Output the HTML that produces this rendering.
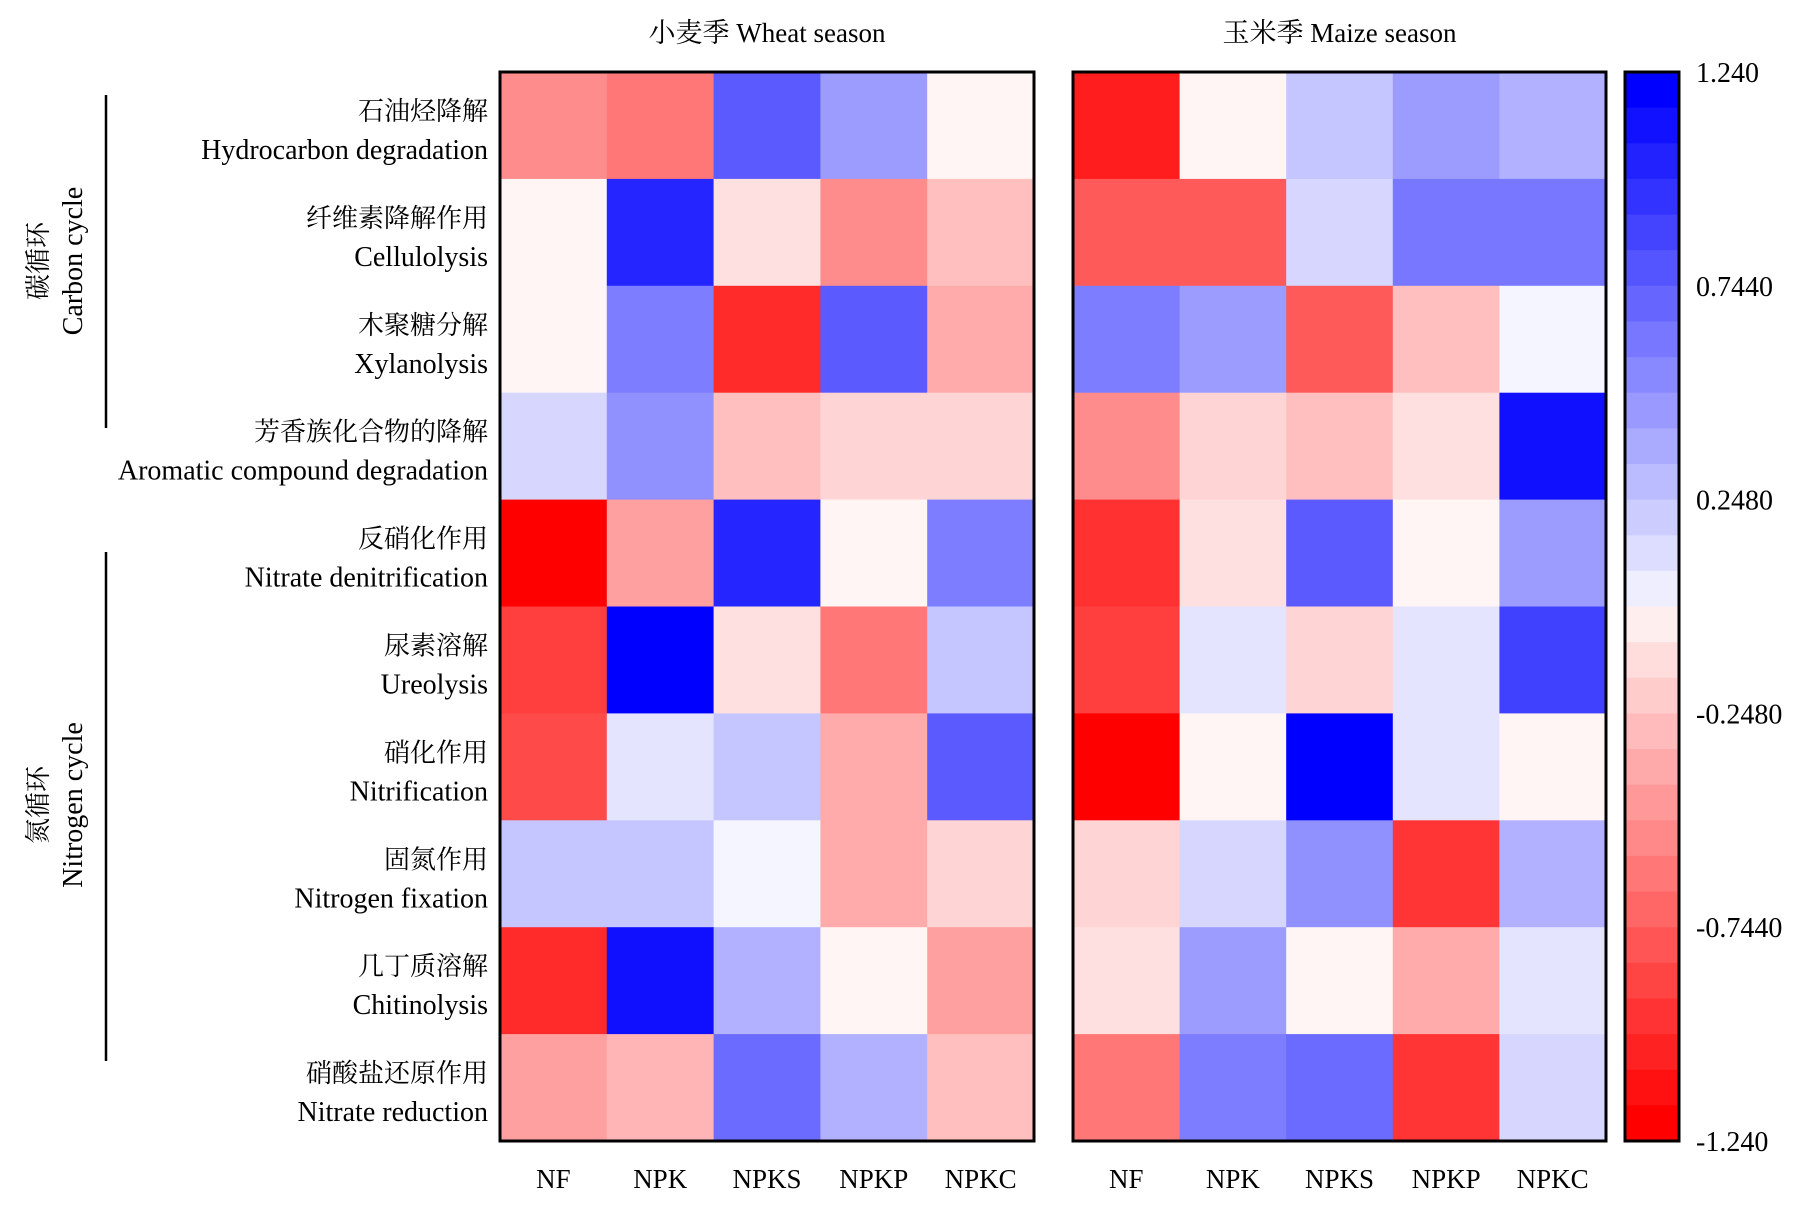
<!DOCTYPE html>
<html><head><meta charset="utf-8"><style>
html,body{margin:0;padding:0;background:#fff;}
svg{display:block;font-family:"Liberation Serif","Noto Serif CJK SC","Noto Sans CJK SC",serif;}
</style></head><body>
<svg id="chart" width="1820" height="1213" viewBox="0 0 1820 1213">
<g id="g"></g>
</svg>
<script>
const rowsZh = ["石油烃降解","纤维素降解作用","木聚糖分解","芳香族化合物的降解","反硝化作用","尿素溶解","硝化作用","固氮作用","几丁质溶解","硝酸盐还原作用"];
const rowsEn = ["Hydrocarbon degradation","Cellulolysis","Xylanolysis","Aromatic compound degradation","Nitrate denitrification","Ureolysis","Nitrification","Nitrogen fixation","Chitinolysis","Nitrate reduction"];
const treatments = ["NF","NPK","NPKS","NPKP","NPKC"];
const wheatValues = [
 [-0.56,-0.66,0.80,0.48,-0.05],
 [-0.05,1.06,-0.15,-0.56,-0.31],
 [-0.05,0.63,-1.03,0.80,-0.41],
 [0.20,0.54,-0.31,-0.21,-0.21],
 [-1.24,-0.46,1.06,-0.05,0.63],
 [-0.94,1.24,-0.15,-0.66,0.28],
 [-0.88,0.13,0.28,-0.41,0.80],
 [0.28,0.28,0.05,-0.41,-0.21],
 [-1.03,1.16,0.38,-0.05,-0.46],
 [-0.46,-0.36,0.72,0.38,-0.31]
];
const maizeValues = [
 [-1.10,-0.05,0.28,0.48,0.38],
 [-0.80,-0.80,0.20,0.66,0.66],
 [0.63,0.48,-0.80,-0.31,0.05],
 [-0.56,-0.21,-0.31,-0.15,1.16],
 [-1.00,-0.15,0.80,-0.05,0.48],
 [-0.94,0.13,-0.21,0.13,0.93],
 [-1.24,-0.05,1.24,0.13,-0.05],
 [-0.21,0.20,0.54,-0.98,0.38],
 [-0.15,0.48,-0.05,-0.41,0.13],
 [-0.66,0.63,0.72,-0.98,0.20]
];
const cbTicks = ["1.240","0.7440","0.2480","-0.2480","-0.7440","-1.240"];
const vmin=-1.24, vmax=1.24, nLevels=30;

const NS="http://www.w3.org/2000/svg";
const gRoot=document.getElementById('g');
function mk(tag,attrs,parent){const e=document.createElementNS(NS,tag);for(const k in attrs)e.setAttribute(k,attrs[k]);(parent||gRoot).appendChild(e);return e;}
function color(v){
  let t=Math.max(-1,Math.min(1,v/vmax));
  if(t>=0){const c=Math.round(255*(1-t));return `rgb(${c},${c},255)`;}
  const c=Math.round(255*(1+t));return `rgb(255,${c},${c})`;
}
const plotTop=72, plotBottom=1141, nR=rowsZh.length, rowH=(plotBottom-plotTop)/nR;
const panels=[{x0:500,x1:1034,vals:wheatValues,title:"小麦季 Wheat season",name:"wheat"},
              {x0:1073,x1:1606,vals:maizeValues,title:"玉米季 Maize season",name:"maize"}];
panels.forEach(p=>{
  const cw=(p.x1-p.x0)/treatments.length;
  const yS=i=>plotTop+i*rowH, xS=j=>p.x0+j*cw;
  p.vals.forEach((row,i)=>row.forEach((v,j)=>{
    const r=mk('rect',{x:xS(j),y:yS(i),width:cw+0.5,height:rowH+0.5,fill:color(v)});
    
    
  }));
  const b=mk('rect',{x:p.x0,y:plotTop,width:p.x1-p.x0,height:plotBottom-plotTop,fill:'none',stroke:'#000','stroke-width':3});
  
  
  const t=mk('text',{x:(p.x0+p.x1)/2,y:42,'text-anchor':'middle','font-size':27});
  t.textContent=p.title;
  
  
  treatments.forEach((tr,j)=>{
    const l=mk('text',{x:xS(j)+cw/2,y:1188,'text-anchor':'middle','font-size':27});
    l.textContent=tr;
    
    
  });
});
rowsZh.forEach((zh,i)=>{
  const y=plotTop+i*rowH;
  const a=mk('text',{x:488,y:y+48,'text-anchor':'end','font-size':26});
  a.textContent=zh;
  
  
  const b=mk('text',{x:488,y:y+87,'text-anchor':'end','font-size':28});
  b.textContent=rowsEn[i];
  
  
});
[[95,428,261,"碳循环","Carbon cycle","carbon"],[552,1061,805,"氮循环","Nitrogen cycle","nitrogen"]].forEach(gr=>{
  const l=mk('line',{x1:106,x2:106,y1:gr[0],y2:gr[1],stroke:'#000','stroke-width':2.5});
  
  
  const t1=mk('text',{x:0,y:0,'text-anchor':'middle','font-size':26,transform:`translate(47,${gr[2]}) rotate(-90)`});
  t1.textContent=gr[3];
  
  
  const t2=mk('text',{x:0,y:0,'text-anchor':'middle','font-size':28,transform:`translate(82,${gr[2]}) rotate(-90)`});
  t2.textContent=gr[4];
  
  
});
const cbX=1625, cbW=54, segH=(plotBottom-plotTop)/nLevels;
for(let k=0;k<nLevels;k++){
  const v=vmax-(k+0.5)*(vmax-vmin)/nLevels;
  const vq=v>0?vmax*Math.ceil(v/vmax*15)/15:vmax*Math.floor(v/vmax*15)/15;
  const r=mk('rect',{x:cbX,y:plotTop+k*segH,width:cbW,height:segH+0.5,fill:color(vq)});
  
  
}
const cb=mk('rect',{x:cbX,y:plotTop,width:cbW,height:plotBottom-plotTop,fill:'none',stroke:'#000','stroke-width':3});


cbTicks.forEach((tk,i)=>{
  const t=mk('text',{x:1696,y:plotTop+i*(plotBottom-plotTop)/(cbTicks.length-1)+10,'font-size':28});
  t.textContent=tk;
  
  
});
</script>
</body></html>
